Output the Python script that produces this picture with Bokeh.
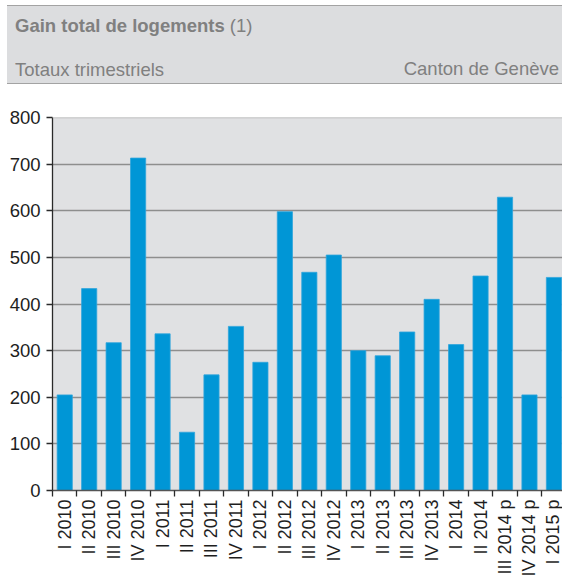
from bokeh.plotting import figure
from bokeh.layouts import column
from bokeh.models import Range1d, FixedTicker, Span, Div
from bokeh.embed import file_html
from bokeh.resources import INLINE

# ---------------- data ----------------
quarters = [
    "I 2010", "II 2010", "III 2010", "IV 2010",
    "I 2011", "II 2011", "III 2011", "IV 2011",
    "I 2012", "II 2012", "III 2012", "IV 2012",
    "I 2013", "II 2013", "III 2013", "IV 2013",
    "I 2014", "II 2014", "III 2014 p", "IV 2014 p",
    "I 2015 p",
]
gain = [
    205, 433, 317, 713,
    336, 125, 248, 352,
    275, 598, 468, 505,
    300, 289, 340, 410,
    313, 460, 629, 205,
    457,
]
y_ticks = [0, 100, 200, 300, 400, 500, 600, 700, 800]
y_max = 800

title_text = "Gain total de logements"
title_note = "(1)"
subtitle_left = "Totaux trimestriels"
subtitle_right = "Canton de Genève"

# ---------------- styles ----------------
FONT_NAME = "Liberation Sans"
HEADER_BG = "#dcdddf"
PLOT_BG = "#e0e1e3"
BAR = "#0096d6"
HEADER_TXT = "#808080"
AXIS_TXT = "#1e1e1e"

W = 562
H = 579
HEADER_H = 86

# ---------------- header ----------------
header_html = (
    f'<div style="position:relative;box-sizing:content-box;width:555px;height:77px;'
    f'margin:5px 0 0 7px;padding:0;background:{HEADER_BG};'
    f'border-top:1.5px solid #a3a3a3;border-bottom:1.5px solid #a3a3a3;'
    f"font-family:'{FONT_NAME}',Arial,sans-serif;font-size:18.5px;line-height:normal;"
    f'color:{HEADER_TXT};">'
    f'<span style="position:absolute;left:8px;top:9px;white-space:nowrap;">'
    f'<b>{title_text}</b> {title_note}</span>'
    f'<span style="position:absolute;left:8px;top:53px;white-space:nowrap;">'
    f'{subtitle_left}</span>'
    f'<span style="position:absolute;right:3px;top:52px;white-space:nowrap;">'
    f'{subtitle_right}</span>'
    f'</div>'
)
header = Div(text=header_html, width=W, height=HEADER_H,
             styles={"margin": "0", "padding": "0"})

# ---------------- chart ----------------
n = len(quarters)
centers = [i + 0.5 for i in range(n)]
boundaries = list(range(n + 1))

p = figure(width=W, height=H - HEADER_H,
           x_range=Range1d(0, 20.85), y_range=Range1d(0, y_max),
           output_backend="svg", toolbar_location=None,
           min_border_left=52, min_border_right=0,
           min_border_top=31, min_border_bottom=89,
           background_fill_color=PLOT_BG, border_fill_color="white",
           outline_line_color=None)

p.vbar(x=centers, top=gain, width=0.62, fill_color=BAR,
       line_color="#2ea5dc", line_width=0.8)

# top border line at the max value
p.add_layout(Span(location=y_max, dimension="width",
                  line_color="#b4b4b4", line_width=1.5))

# y axis
p.yaxis.ticker = FixedTicker(ticks=y_ticks)
p.yaxis.major_tick_out = 6
p.yaxis.major_tick_in = 0
p.yaxis.minor_tick_line_color = None
p.yaxis.major_label_standoff = 6
p.yaxis.major_label_text_font = FONT_NAME
p.yaxis.major_label_text_font_size = "18.5px"
p.yaxis.major_label_text_color = AXIS_TXT
p.yaxis.axis_line_color = "#2a2a2a"
p.yaxis.axis_line_width = 1.3
p.yaxis.major_tick_line_color = "#2a2a2a"
p.yaxis.major_tick_line_width = 1.3

# x axis: labels at centres, ticks at category boundaries
p.xaxis.ticker = FixedTicker(ticks=centers, minor_ticks=boundaries)
p.xaxis.major_label_overrides = {c: q for c, q in zip(centers, quarters)}
p.xaxis.major_tick_out = 0
p.xaxis.major_tick_in = 0
p.xaxis.minor_tick_out = 6
p.xaxis.minor_tick_in = 0
p.xaxis.minor_tick_line_color = "#2a2a2a"
p.xaxis.minor_tick_line_width = 1.3
p.xaxis.major_label_orientation = 3.14159265 / 2
p.xaxis.major_label_standoff = 3
p.xaxis.major_label_text_font = FONT_NAME
p.xaxis.major_label_text_font_size = "18px"
p.xaxis.major_label_text_color = AXIS_TXT
p.xaxis.axis_line_color = "#555555"
p.xaxis.axis_line_width = 1.5

p.xgrid.visible = False
p.ygrid.ticker = FixedTicker(ticks=y_ticks[1:-1])
p.ygrid.grid_line_color = "#8e8e8e"
p.ygrid.grid_line_width = 1.6

layout = column(header, p, spacing=0)

with open("out.html", "w") as f:
    f.write(file_html(layout, INLINE))
